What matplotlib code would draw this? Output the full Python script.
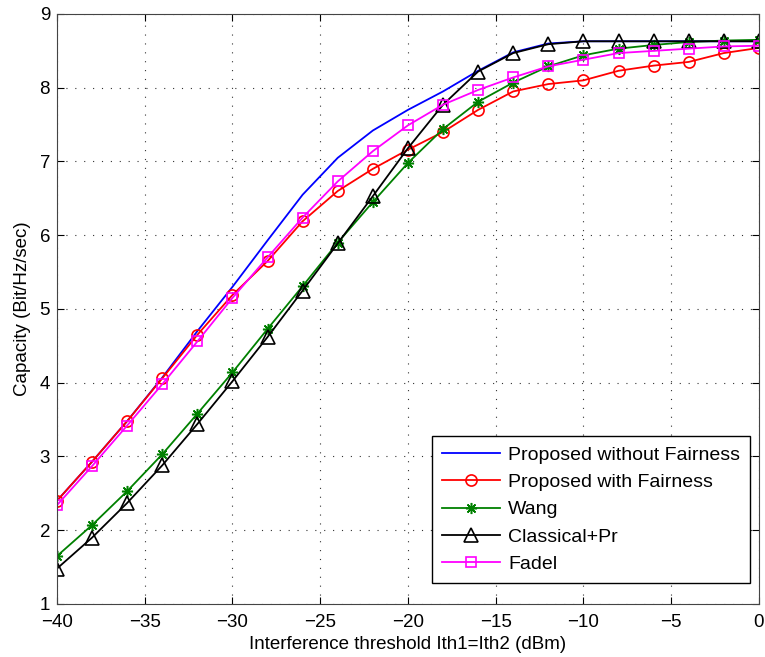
import matplotlib
matplotlib.use("Agg")
import matplotlib.pyplot as plt
from matplotlib.ticker import MultipleLocator

plt.rcParams['font.family'] = ['Liberation Sans', 'DejaVu Sans']

x = [-40, -38, -36, -34, -32, -30, -28, -26, -24, -22, -20, -18, -16, -14, -12, -10, -8, -6, -4, -2, 0]

no_fair = [2.40, 2.93, 3.48, 4.07, 4.70, 5.30, 5.93, 6.55, 7.05, 7.42, 7.70, 7.95, 8.23, 8.48, 8.60, 8.63, 8.63, 8.63, 8.63, 8.63, 8.63]
with_fair = [2.40, 2.93, 3.48, 4.06, 4.65, 5.19, 5.65, 6.19, 6.60, 6.90, 7.16, 7.40, 7.70, 7.95, 8.05, 8.10, 8.23, 8.30, 8.35, 8.47, 8.54]
wang = [1.65, 2.07, 2.53, 3.03, 3.58, 4.14, 4.73, 5.31, 5.90, 6.45, 6.98, 7.44, 7.81, 8.07, 8.29, 8.44, 8.53, 8.58, 8.62, 8.64, 8.65]
classical = [1.48, 1.90, 2.37, 2.88, 3.44, 4.02, 4.62, 5.25, 5.89, 6.53, 7.18, 7.77, 8.22, 8.47, 8.59, 8.63, 8.63, 8.63, 8.63, 8.63, 8.63]
fadel = [2.34, 2.87, 3.42, 3.98, 4.56, 5.15, 5.70, 6.24, 6.73, 7.14, 7.49, 7.77, 7.97, 8.14, 8.29, 8.38, 8.47, 8.50, 8.53, 8.56, 8.57]

labels = ['Proposed without Fairness', 'Proposed with Fairness', 'Wang', 'Classical+Pr', 'Fadel']
xticks = [-40, -35, -30, -25, -20, -15, -10, -5, 0]
xticklabels = ['\u221240', '\u221235', '\u221230', '\u221225', '\u221220', '\u221215', '\u221210', '\u22125', '0']

fig = plt.figure(figsize=(7.65, 6.57), dpi=100)
ax = fig.add_axes([0.0745, 0.0807, 0.9175, 0.898])

lw = 1.3
ax.plot(x, no_fair, color='#0000ff', lw=lw, label=labels[0])
ax.plot(x, with_fair, color='#ff0000', lw=lw, marker='o', ms=8, mfc='none', mew=1.2, label=labels[1])
ax.plot(x, wang, color='#008000', lw=lw, marker=(8, 2, 0), ms=8, mfc='none', mew=1.1, label=labels[2])
ax.plot(x, classical, color='black', lw=lw, marker='^', ms=10, mfc='none', mew=1.2, label=labels[3])
ax.plot(x, fadel, color='#ff00ff', lw=lw, marker='s', ms=7, mfc='none', mew=1.2, label=labels[4])

ax.set_xlim(-40, 0)
ax.set_ylim(1, 9)
ax.yaxis.set_major_locator(MultipleLocator(1))
ax.set_xticks(xticks)
ax.set_xticklabels(xticklabels)
ax.grid(True, color='#333333', linestyle=(0, (1, 7)), linewidth=0.8)
ax.tick_params(direction='in', top=True, right=True, labelsize=13.5, length=5)
ax.tick_params(axis='x', pad=7)
ax.tick_params(axis='y', pad=5)
for s in ax.spines.values():
    s.set_color('#444444')

ax.set_xlabel('Interference threshold Ith1=Ith2 (dBm)', fontsize=13.5, labelpad=4)
ax.set_ylabel('Capacity (Bit/Hz/sec)', fontsize=13.5, labelpad=6)

leg = ax.legend(loc='lower right', bbox_to_anchor=(0.987, 0.036), fontsize=14,
                fancybox=False, edgecolor='black', framealpha=1, handlelength=3.0,
                borderpad=0.5, labelspacing=0.5, handletextpad=0.4, borderaxespad=0)
leg.get_frame().set_linewidth(1.0)

fig.savefig('out.png', dpi=100)
